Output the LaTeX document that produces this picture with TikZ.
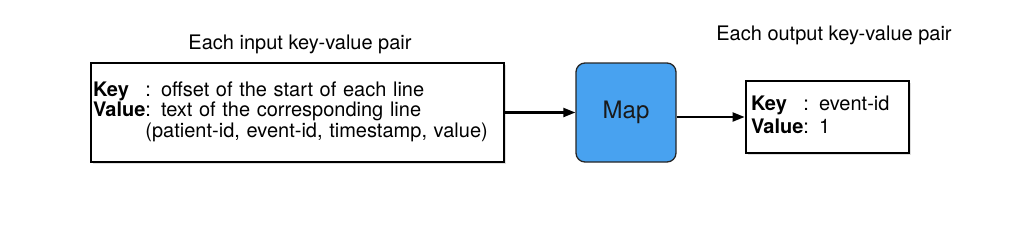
\documentclass[tikz,border=0pt]{standalone}
\usepackage{xcolor}
\usepackage{fontspec}
\setmainfont{TeX Gyre Heros}
\usepackage{tikz}
\usetikzlibrary{arrows.meta,shadows}
\definecolor{mapblue}{HTML}{48A2F0}
\definecolor{textgray}{HTML}{1A1A1A}

\begin{document}
\begin{tikzpicture}[x=1pt,y=-1pt,
  kvbox/.style={draw=black,line width=2.8pt,fill=white,
    drop shadow={shadow xshift=2pt,shadow yshift=-2pt,opacity=0.25},
    inner xsep=2pt,inner ysep=0pt,align=left},
  mapbox/.style={draw=black!85,line width=1.3pt,fill=mapblue,rounded corners=9pt,
    minimum width=100pt,minimum height=99pt,font=\fontsize{24}{24}\selectfont},
  caption/.style={anchor=base,inner sep=0pt,font=\fontsize{20}{20}\selectfont},
  flow/.style={line width=2.1pt,-{Triangle[length=12pt,width=9pt]}}]
  \useasboundingbox (0,0) rectangle (1031,234);
  % input side
  \node[caption] (intitle) at (300,49.3) {Each input key-value pair};
  \node[kvbox,minimum width=413pt,minimum height=99pt,text width=409pt,
    font=\fontsize{20}{20}\selectfont] (inbox) at (297.5,112.5)
    {\begin{tabular}{@{}l@{}l@{}}
      \textbf{Key} & : offset of the start of each line\\
      \textbf{Value} & : text of the corresponding line\\
       & (patient-id, event-id, timestamp, value)
    \end{tabular}};
  % map step
  \node[mapbox,text=textgray] (map) at (626,112.5) {Map};
  % output side
  \node[caption] (outtitle) at (834,40.7) {Each output key-value pair};
  \node[kvbox,minimum width=163pt,minimum height=72pt,text width=153pt,
    inner xsep=5pt,font=\fontsize{20}{23}\selectfont] (outbox) at (827.5,117)
    {\begin{tabular}{@{}l@{}l@{}}
      \textbf{Key} & : event-id\\
      \textbf{Value} & : 1
    \end{tabular}};
  \draw[flow] (inbox.east) -- (map.west);
  \draw[flow] (map.east |- outbox.west) -- (outbox.west);
\end{tikzpicture}
\end{document}
